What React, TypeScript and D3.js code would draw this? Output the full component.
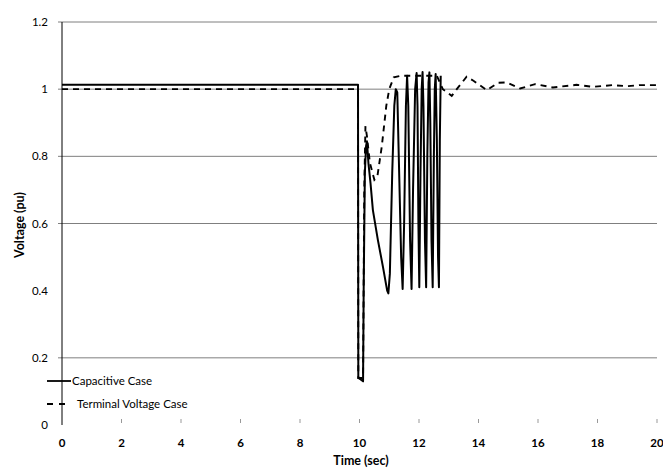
import React from "react";
import * as d3 from "d3";

const capacitiveT = [0, 9.95, 9.96, 10.05, 10.12, 10.14, 10.18, 10.22, 10.25, 10.3, 10.37, 10.45, 10.62, 10.79, 10.93, 10.97, 11.02, 11.1, 11.17, 11.22, 11.27, 11.32, 11.4, 11.45, 11.5, 11.56, 11.6, 11.64, 11.7, 11.75, 11.8, 11.87, 11.92, 11.95, 11.98, 12.01, 12.05, 12.09, 12.12, 12.15, 12.2, 12.24, 12.28, 12.32, 12.35, 12.38, 12.42, 12.46, 12.5, 12.53, 12.56, 12.6, 12.64, 12.67, 12.7, 12.73];
const capacitiveV = [1.013, 1.013, 0.14, 0.135, 0.13, 0.4, 0.75, 0.83, 0.845, 0.78, 0.72, 0.64, 0.55, 0.47, 0.4, 0.392, 0.45, 0.75, 0.95, 1.0, 0.99, 0.8, 0.5, 0.405, 0.6, 0.95, 1.04, 0.95, 0.55, 0.405, 0.7, 1.0, 1.048, 0.95, 0.6, 0.41, 0.75, 1.0, 1.051, 0.95, 0.55, 0.41, 0.8, 1.02, 1.05, 0.9, 0.55, 0.41, 0.8, 1.0, 1.045, 0.85, 0.5, 0.41, 0.85, 1.04];

const terminalT = [0, 9.95, 9.96, 10.12, 10.16, 10.2, 10.25, 10.35, 10.5, 10.6, 10.75, 10.9, 11.0, 11.15, 11.4, 11.8, 12.2, 12.6, 12.8, 13.1, 13.27, 13.6, 13.83, 14.28, 14.66, 14.95, 15.4, 15.9, 16.5, 17.3, 17.85, 18.5, 19.0, 19.4, 20];
const terminalV = [1.0, 1.0, 0.14, 0.14, 0.7, 0.89, 0.86, 0.78, 0.73, 0.74, 0.83, 0.95, 1.0, 1.035, 1.04, 1.04, 1.04, 1.04, 1.0, 0.98, 1.0, 1.037, 1.025, 0.997, 1.019, 1.02, 1.002, 1.015, 1.005, 1.013, 1.007, 1.012, 1.009, 1.012, 1.012];

const xTicks = [0, 2, 4, 6, 8, 10, 12, 14, 16, 18, 20];
const yTicks = [0, 0.2, 0.4, 0.6, 0.8, 1, 1.2];
const gridValues = [0.2, 0.6, 0.8, 1, 1.2];

const FONT = "Lato, 'Open Sans', sans-serif";

export default function App() {
  const x = d3.scaleLinear().domain([0, 20]).range([62, 657]);
  const y = d3.scaleLinear().domain([0, 1.2]).range([425, 22]);

  const capPts: [number, number][] = capacitiveT.map((t, i) => [x(t), y(capacitiveV[i])]);
  const termPts: [number, number][] = terminalT.map((t, i) => [x(t), y(terminalV[i])]);
  const pathGen = d3.line<[number, number]>().x((d) => d[0]).y((d) => d[1]);

  return (
    <svg width={663} height={470} style={{ position: "absolute", left: 0, top: 0, background: "#fff" }}>
      {gridValues.map((v) => (
        <line key={"g" + v} x1={58} x2={657} y1={y(v)} y2={y(v)} stroke="#7f7f7f" strokeWidth={1} />
      ))}
      <line x1={62} x2={62} y1={y(1.2)} y2={y(0)} stroke="#000" strokeWidth={1} />
      {xTicks.slice(1).map((t) => (
        <line key={"xt" + t} x1={x(t)} x2={x(t)} y1={419} y2={423} stroke="#999" strokeWidth={1} />
      ))}
      {yTicks.map((v) => (
        <text key={"yl" + v} x={48} y={y(v) + 4} textAnchor="end" fontFamily={FONT} fontSize={11.5} fill="#000">
          {String(v)}
        </text>
      ))}
      {xTicks.map((t) => (
        <text key={"xl" + t} x={x(t)} y={447} textAnchor="middle" fontFamily={FONT} fontSize={11.5} fontWeight="bold" fill="#000">
          {t}
        </text>
      ))}
      <path d={pathGen(termPts) || ""} fill="none" stroke="#000" strokeWidth={1.9} strokeDasharray="6,5" />
      <path d={pathGen(capPts) || ""} fill="none" stroke="#000" strokeWidth={2} strokeLinejoin="round" />
      <text x={361} y={465} textAnchor="middle" fontFamily={FONT} fontSize={12.5} fontWeight="bold">Time (sec)</text>
      <text transform="translate(24,225) rotate(-90)" textAnchor="middle" fontFamily={FONT} fontSize={12.5} fontWeight="bold">Voltage (pu)</text>
      <line x1={47} x2={71} y1={381} y2={381} stroke="#000" strokeWidth={1.8} />
      <text x={72} y={385} fontFamily={FONT} fontSize={11.5}>Capacitive Case</text>
      <line x1={47} x2={65} y1={404} y2={404} stroke="#000" strokeWidth={1.8} strokeDasharray="6,6" />
      <text x={77} y={408} fontFamily={FONT} fontSize={11.5}>Terminal Voltage Case</text>
    </svg>
  );
}
